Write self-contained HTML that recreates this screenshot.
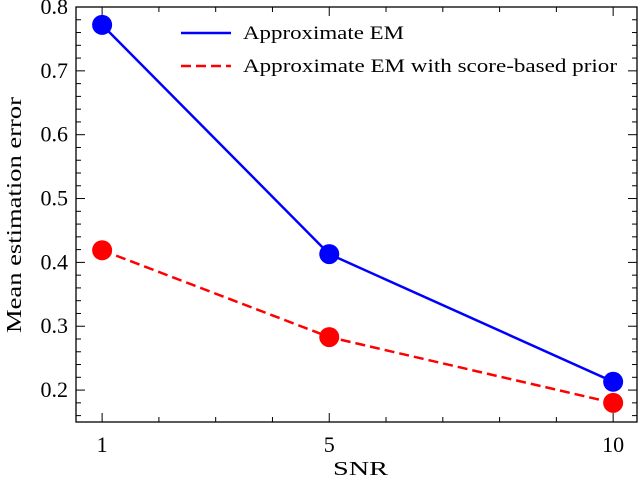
<!DOCTYPE html>
<html><head><meta charset="utf-8"><style>
body{margin:0;background:#fff;}
svg text{font-family:"Liberation Serif",serif;fill:#000;}
</style></head><body>
<svg id="chart" width="640" height="485" viewBox="0 0 640 485" xmlns="http://www.w3.org/2000/svg"></svg>
<script>
const categories = [1, 5, 10];
const seriesEM = [0.772, 0.413, 0.213];
const seriesScore = [0.419, 0.283, 0.180];
const yTicks = [0.2, 0.3, 0.4, 0.5, 0.6, 0.7, 0.8];
const xTicks = [1, 5, 10];
const seriesNames = ["Approximate EM", "Approximate EM with score-based prior"];

const L=76,R=637,T=7,B=422;
const xMin=0.54,xMax=10.42,yMin=0.15,yMax=0.8;
const sx=v=>L+(v-xMin)/(xMax-xMin)*(R-L);
const sy=v=>B-(v-yMin)/(yMax-yMin)*(B-T);
const svg=document.getElementById('chart');
const NS='http://www.w3.org/2000/svg';
function mk(tag,attrs,parent){const e=document.createElementNS(NS,tag);for(const k in attrs)e.setAttribute(k,attrs[k]);(parent||svg).appendChild(e);return e;}

let f=mk('rect',{x:L,y:T,width:R-L,height:B-T,fill:'none',stroke:'#000','stroke-width':1.3});



for(let v=0.16;v<=0.8001;v+=0.02){
  const y=sy(v);const major=Math.abs(Math.round(v*10)-v*10)<1e-6;
  const len=major?9:5;
  let t=mk('line',{x1:L,x2:L+len,y1:y,y2:y,stroke:'#000','stroke-width':1});
  
  
  let t2=mk('line',{x1:R,x2:R-len,y1:y,y2:y,stroke:'#000','stroke-width':1});
  
  
}
yTicks.forEach(v=>{
  let tx=mk('text',{x:L-8,y:sy(v)+7,'text-anchor':'end','font-size':22});
  tx.textContent=v.toFixed(1);
  
  
});
for(let v=1;v<=10;v++){
  const major=xTicks.includes(v);const len=major?9:5;const x=sx(v);
  let t=mk('line',{x1:x,x2:x,y1:B,y2:B-len,stroke:'#000','stroke-width':1});
  
  
  let t2=mk('line',{x1:x,x2:x,y1:T,y2:T+len,stroke:'#000','stroke-width':1});
  
  
}
xTicks.forEach(v=>{
  let tx=mk('text',{x:sx(v),y:B+30,'text-anchor':'middle','font-size':22});
  tx.textContent=v;
  
  
});
let xl=mk('text',{x:333,y:475,'font-size':20,textLength:55,lengthAdjust:'spacingAndGlyphs'});
xl.textContent='SNR';


let yl=mk('text',{x:0,y:0,'text-anchor':'middle','font-size':21,textLength:236,lengthAdjust:'spacingAndGlyphs',transform:`translate(21,215) rotate(-90)`});
yl.textContent='Mean estimation error';



function drawSeries(vals,color,dash,name){
  const pts=vals.map((v,i)=>sx(categories[i])+','+sy(v)).join(' ');
  let pl=mk('polyline',{points:pts,fill:'none',stroke:color,'stroke-width':2.5,'stroke-dasharray':dash});
  
  
  vals.forEach((v,i)=>{
    let c=mk('circle',{cx:sx(categories[i]),cy:sy(v),r:10,fill:color});
    
    
  });
}
drawSeries(seriesEM,'#0000ff','none','approximate-em');
drawSeries(seriesScore,'#ff0000','10,5','score-based-prior');

const lg=mk('g',{});


const legLens=[161,374];
[['#0000ff','none'],['#ff0000','10,5']].forEach((s,i)=>{
  const y=33+i*33;
  let ln=mk('line',{x1:181,x2:231,y1:y,y2:y,stroke:s[0],'stroke-width':2.5,'stroke-dasharray':s[1]},lg);
  
  
  let tx=mk('text',{x:243,y:y+6,'font-size':19,textLength:legLens[i],lengthAdjust:'spacingAndGlyphs'},lg);
  tx.textContent=seriesNames[i];
  
  
});
</script>
</body></html>
